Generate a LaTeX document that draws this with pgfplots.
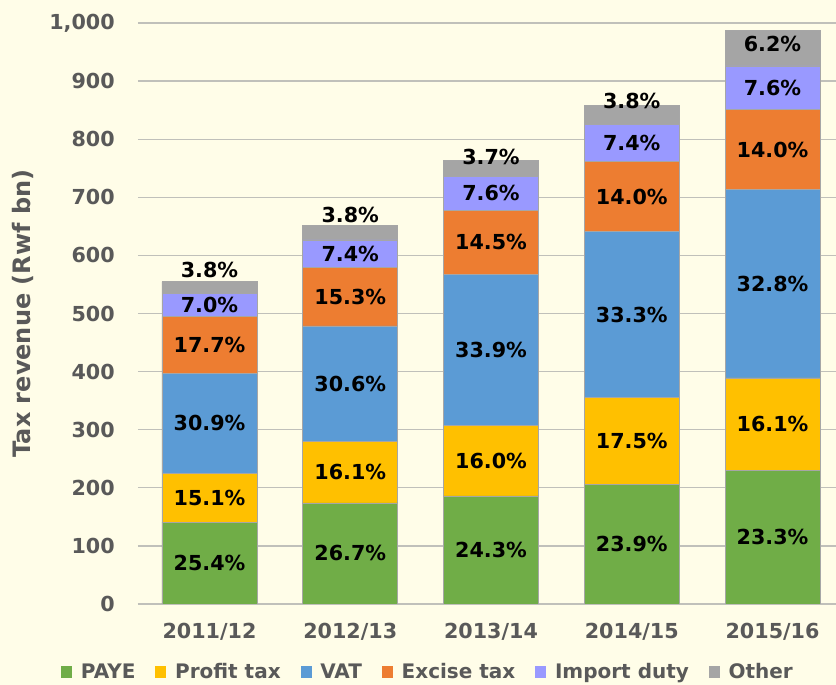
\documentclass[border=0pt]{standalone}
\usepackage{pgfplots}
\pgfplotsset{compat=1.18}
\usepackage{pgfplotstable}
\usepackage{fontspec}
\setmainfont{DejaVu Sans}

\definecolor{bgc}{HTML}{FFFDE8}
\definecolor{gridc}{HTML}{C0C0BA}
\definecolor{tickc}{HTML}{595959}
\definecolor{edgec}{HTML}{A6A6A6}
\definecolor{payec}{HTML}{70AD47}
\definecolor{profitc}{HTML}{FFC000}
\definecolor{vatc}{HTML}{5B9BD5}
\definecolor{excisec}{HTML}{ED7D31}
\definecolor{importc}{HTML}{9999FF}
\definecolor{otherc}{HTML}{A5A5A5}

% tax revenue, Rwf bn
\pgfplotstableread{
x paye profit vat excise import other
0 141 84 172 98 39 21
1 174 105 199.5 100 48 25
2 186 122 259 111 58 28
3 205 150 286 120 64 33
4 230 159 324 138 75 61
}\data

% share labels: x, height of label centre (Rwf bn), share in %
\pgfplotstableread{
x y p
0 70.5 25.4
0 183 15.1
0 311 30.9
0 446 17.7
0 514.5 7.0
0 575 3.8
1 87 26.7
1 226.5 16.1
1 378.75 30.6
1 528.5 15.3
1 602.5 7.4
1 670 3.8
2 93 24.3
2 247 16.0
2 437.5 33.9
2 622.5 14.5
2 707 7.6
2 769 3.7
3 102.5 23.9
3 280 17.5
3 498 33.3
3 701 14.0
3 793 7.4
3 866 3.8
4 115 23.3
4 309.5 16.1
4 551 32.8
4 782 14.0
4 888.5 7.6
4 964 6.2
}\labels

\pgfplotsset{
  geom/.style={at={(0,0)}, anchor=south west, scale only axis,
    width=523.5pt, height=435.75pt,
    xmin=-0.508, xmax=4.451, ymin=0, ymax=1000},
}

\begin{document}
\begin{tikzpicture}
\fill[bgc] (-103.5pt,-60.75pt) rectangle (523.5pt,453pt);
\useasboundingbox (-103.5pt,-60.75pt) rectangle (523.5pt,453pt);
\begin{axis}[
  geom,
  ybar stacked, bar width=0.675,
  xtick=data, xticklabels={2011/12,2012/13,2013/14,2014/15,2015/16},
  ytick={0,100,...,1000},
  axis x line*=bottom, axis y line*=left,
  x axis line style={draw=gridc, line width=1pt, -},
  y axis line style={draw=none},
  major tick length=0pt,
  ymajorgrids, grid style={draw=gridc, line width=1pt},
  /pgf/number format/1000 sep={,},
  /pgf/number format/assume math mode=true,
  yticklabel style={font=\fontsize{15.5}{18}\selectfont\bfseries, text=tickc,
    anchor=east, inner sep=0pt, xshift=-17.25pt},
  xticklabel style={font=\fontsize{15.5}{18}\selectfont\bfseries, text=tickc,
    anchor=center, inner sep=0pt, yshift=-21pt},
  ylabel={Tax revenue (Rwf bn)},
  ylabel style={font=\fontsize{18}{20}\selectfont\bfseries, text=tickc,
    at={(axis description cs:-0.1655,0.5)}, anchor=center},
  legend columns=6,
  legend style={at={(axis description cs:0.416,-0.117)}, anchor=center,
    draw=none, fill=none, text=tickc,
    font=\fontsize{15}{18}\selectfont\bfseries,
    /tikz/every odd column/.append style={column sep=4.5pt},
    /tikz/every even column/.append style={column sep=13pt}},
  legend image code/.code={\fill[#1,draw=none] (0pt,-4.2pt) rectangle (8.25pt,4.2pt);},
  every axis plot/.append style={draw=edgec, line width=0.6pt},
]
\addplot[fill=payec] table[x=x, y=paye] {\data};
\addplot[fill=profitc] table[x=x, y=profit] {\data};
\addplot[fill=vatc] table[x=x, y=vat] {\data};
\addplot[fill=excisec] table[x=x, y=excise] {\data};
\addplot[fill=importc] table[x=x, y=import] {\data};
\addplot[fill=otherc] table[x=x, y=other] {\data};
\legend{PAYE, Profit tax, VAT, Excise tax, Import duty, Other}
\end{axis}
\begin{axis}[geom, hide axis, clip=false,
  /pgf/number format/assume math mode=true]
\addplot[draw=none, mark=none, point meta=explicit,
  nodes near coords={\pgfmathprintnumber[fixed,fixed zerofill,precision=1]{\pgfplotspointmeta}\%},
  nodes near coords align={center},
  every node near coord/.append style={anchor=center, inner sep=0pt, text=black,
    font=\fontsize{15.5}{18}\selectfont\bfseries}]
  table[x=x, y=y, meta=p] {\labels};
\end{axis}
\end{tikzpicture}
\end{document}
